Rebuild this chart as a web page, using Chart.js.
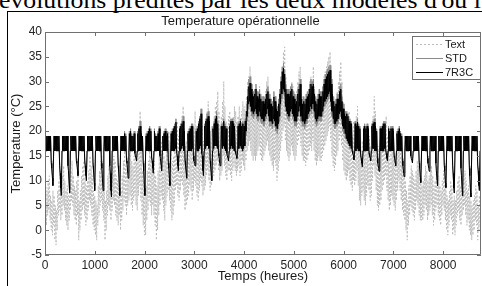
<!DOCTYPE html>
<html>
<head>
<meta charset="utf-8">
<script src="https://cdn.jsdelivr.net/npm/chart.js@4.4.0/dist/chart.umd.min.js"></script>
<style>
  html, body { margin: 0; padding: 0; background: #fff; overflow: hidden; }
  #page { position: relative; width: 482px; height: 286px; overflow: hidden; }
  #doctext { position: absolute; left: -1px; top: -11px; font: 23px 'Liberation Serif', 'Times New Roman', serif;
             line-height: 24px; white-space: nowrap; color: #000; transform: scaleX(1.12); transform-origin: left top; }
  #frameTop { position: absolute; left: 7px; top: 11px; width: 480px; border-top: 1.5px solid #000; }
  #frameLeft { position: absolute; left: 7px; top: 11px; height: 280px; border-left: 1.5px solid #000; }
  canvas { position: absolute; left: 0; top: 0; }
</style>
</head>
<body>
<div id="page">
  <div id="doctext">évolutions prédites par les deux modèles d'ou l</div>
  <div id="frameTop"></div>
  <div id="frameLeft"></div>
  <canvas id="chart" width="482" height="286"></canvas>
</div>
<script>
// axis ticks
const xTicks = [0, 1000, 2000, 3000, 4000, 5000, 6000, 7000, 8000];
const yTicks = [-5, 0, 5, 10, 15, 20, 25, 30, 35, 40];
const seriesNames = ['Text', 'STD', '7R3C'];

// two readings a day (hour of day), one week per row: Mon..Sun, morning/afternoon
const sampleHours = [6, 15];

const textTemp = [
  2,9, 1,8, 3,10, 4,11, 2,7, 0,6, -1,8,
  1,7, -2,5, -3,4, 0,8, 3,10, 4,12, 2,9,
  3,11, 5,13, 4,10, 2,8, 1,9, 0,7, 2,10,
  4,12, 6,14, 5,11, 3,9, 2,8, 1,10, 3,12,
  -2,6, 0,8, 2,11, 4,13, 5,14, 3,10, 1,9,
  2,10, 4,12, 6,15, 5,13, 3,11, 1,8, 0,7,
  -1,6, -2,5, 1,9, 3,12, 5,14, 6,15, 4,12,
  2,9, -2,6, 0,8, 3,11, 5,13, 4,12, 2,10,
  4,13, 6,15, 5,14, 3,11, 2,10, 1,9, 3,12,
  0,8, 2,11, 4,14, 6,16, 5,13, 3,12, 5,15,
  6,16, 7,17, 5,14, 4,13, 6,15, 7,18, 5,14,
  4,15, 7,19, 9,24, 6,16, 3,12, 1,10, -1,8,
  -1,9, 2,12, 4,14, 6,16, 5,15, 3,13, 5,16,
  3,14, 1,11, -2,9, 0,12, 3,15, 5,17, 7,18,
  6,17, 4,15, 2,14, 5,17, 7,19, 8,20, 6,18,
  4,16, 2,14, 3,15, 5,18, 8,21, 9,22, 7,19,
  6,18, 8,21, 10,23, 9,25, 7,20, 4,17, 5,18,
  6,18, 7,19, 9,21, 8,20, 6,19, 8,21, 10,24,
  9,21, 7,19, 6,17, 8,20, 10,22, 9,21, 7,18,
  8,20, 9,22, 11,24, 12,26, 10,22, 8,20, 9,21,
  10,21, 11,23, 12,25, 13,26, 14,28, 12,24, 10,21,
  11,23, 12,26, 15,30, 13,25, 11,22, 10,21, 12,23,
  12,24, 11,22, 10,21, 12,23, 13,25, 12,24, 11,22,
  12,23, 13,25, 11,22, 12,24, 14,26, 13,25, 12,24,
  14,27, 16,30, 17,31, 18,33, 16,29, 15,27, 14,26,
  15,27, 14,25, 15,26, 16,28, 17,29, 15,27, 14,26,
  14,26, 15,27, 16,28, 17,30, 18,31, 16,28, 15,26,
  14,25, 13,24, 12,23, 14,25, 13,22, 10,21, 12,24,
  14,27, 16,30, 18,33, 20,36, 21,37, 18,31, 16,28,
  15,27, 14,26, 15,28, 17,30, 16,29, 15,27, 14,26,
  15,28, 17,30, 18,32, 19,33, 17,29, 15,27, 14,26,
  14,26, 13,25, 14,27, 15,28, 16,30, 17,31, 16,30,
  18,33, 16,29, 14,26, 13,25, 14,27, 15,28, 14,26,
  14,27, 15,29, 16,31, 17,32, 18,33, 19,34, 20,35,
  21,36, 18,31, 15,27, 13,25, 12,24, 13,26, 15,28,
  16,30, 18,32, 19,34, 17,30, 14,26, 12,24, 11,23,
  10,22, 11,23, 12,24, 10,21, 9,20, 8,19, 10,22,
  9,21, 10,23, 12,25, 9,20, 6,17, 5,16, 7,18,
  8,19, 6,17, 5,16, 7,18, 9,20, 8,19, 6,17,
  7,19, 10,23, 13,27, 11,24, 8,20, 5,17, 4,16,
  5,16, 6,17, 8,19, 9,20, 10,21, 11,23, 8,19,
  6,17, 4,15, 5,16, 7,18, 6,17, 5,15, 4,14,
  6,16, 8,18, 10,21, 8,17, 6,15, 4,13, 3,12,
  2,10, 0,8, -2,6, 1,9, 3,11, 5,13, 4,12,
  3,11, 2,10, 4,12, 6,14, 5,13, 3,11, 2,10,
  2,9, 2,10, 3,11, 5,13, 4,12, 2,10, 3,11,
  4,12, 5,13, 3,11, 1,9, 2,10, 4,12, 5,13,
  3,11, 2,9, 1,8, 3,10, 5,12, 4,11, 2,9,
  0,7, -1,6, 1,8, 3,10, 2,9, -1,6, 0,7,
  -1,6, 1,8, 3,10, 4,11, 2,9, 1,8, 3,10,
  4,11, 5,12, 3,10, 1,8, 2,9, 0,7, -1,6,
  -2,5, -1,6, 0,7, 2,9, 1,8, -2,5, 0,7,
  1,8
];

const stdTemp = [
  16,19, 16,19, 16,19, 16,19, 16,19, 14,13, 11,10,
  16,19, 16,19, 16,19, 16,19, 16,19, 13.5,12, 9.5,8,
  16,19, 16,19, 16,19, 16,19, 16,19, 13.5,12.5, 10,8.5,
  16,19, 16,19, 16,19, 16,19, 16,19, 14.5,14, 12.5,12,
  16,19, 16,19, 16,19, 16,19, 16,19, 14.5,13.5, 12,11,
  16,19, 16,19, 16,19, 16,19, 16,19, 13.5,12.5, 10.5,9,
  16,19, 16,19, 16,19, 16,19, 16,19, 14,13, 10.5,9,
  16,19, 16,19, 16,19, 16,19, 16,19, 13.5,12, 9,7.5,
  16,19, 16,19, 16,19, 16,19, 16,19, 13.5,12.5, 9.5,8,
  16,19, 16,19, 16,19, 16,20, 16,19.5, 14.5,14, 12,11.5,
  16,20, 16,20.5, 16,19.5, 16,19, 16,20, 16,15.5, 15,14.5,
  16,20, 16,21, 16,22, 16,20, 16,19, 14,12.5, 9.5,8,
  16,19.5, 16,20, 16,20.5, 16,21, 16,20.5, 15,14.5, 13,12.5,
  16,20.5, 16,19.5, 16,19, 16,20, 16,21, 15.5,15, 13.5,13,
  16,19, 16,20, 16,20.5, 16,19.5, 16,20, 14,13, 11,10,
  16,20, 16,20.5, 16,21, 16,21.5, 16.5,22.5, 16,15.5, 13.5,13,
  16,21, 16,21.5, 16.5,22, 17,23, 16,20.5, 14.5,13.5, 12,11.5,
  16,20, 16,20.5, 16,21, 16,21.5, 16.5,21.5, 15.5,14.5, 14,13.5,
  16,20.5, 16,21, 16,22, 16.5,23, 17,24.5, 16,15.5, 12.5,12,
  16,21.5, 16.5,22.5, 17,23.5, 17,24, 16.5,22.5, 14.5,13.5, 12,11,
  16,21, 16.5,22, 17,23, 17,24, 16.5,22, 16,15.5, 14,13.5,
  16,21.5, 16.5,21.5, 17,22.5, 16.5,21.5, 16,21, 16,15.5, 15,14.5,
  16,21.5, 16.5,22.5, 17,22.5, 16.5,22, 16,21.5, 16.5,16, 15.5,15,
  16,21.5, 16.5,22, 17,22.5, 16.5,21.5, 16,22, 16.5,21.5, 17,22.5,
  19,25.5, 22,28.5, 24.5,30.5, 25,31, 24,29.5, 23,28.5, 22.5,28,
  23,28.5, 23.5,29.5, 22.5,28, 22,27.5, 23,28.5, 22,27.5, 21.5,27,
  21.5,27, 21,26.5, 22,27.5, 22.5,28.5, 23.5,29, 22,27.5, 21,26.5,
  21,26.5, 20.5,26, 21.5,28, 21,27, 20,25.5, 19.5,25, 20.5,26.5,
  22,28.5, 24.5,31, 26.5,33, 27.5,33.7, 27,32.5, 24,29.5, 23,28.5,
  22.5,28.5, 22,28, 23,29, 23.5,29.5, 22.5,28, 22,27.5, 21,26.5,
  21,27, 22,28.5, 23,29.5, 24,30.5, 22,27.5, 21,26.5, 21,27,
  20.5,26.5, 21,27.5, 21.5,28, 22.5,28.5, 23,29.5, 24,30.5, 23.5,30,
  24.5,30.5, 23,28.5, 21.5,27, 21,26.5, 21.5,27.5, 22,28.5, 22,28,
  22,28, 23,29, 24,30.5, 25,31.5, 25.5,32, 26,32.5, 26.5,33,
  27,33.3, 25,30.5, 23,28.5, 21.5,27, 20.5,26, 20.5,26.5, 21,27.5,
  21.5,27.5, 22.5,29, 23,29.5, 21.5,27, 20,25.5, 19.5,24.5, 18.5,24,
  18,24, 17.5,23.5, 17,22.5, 16.5,22, 16,22, 16,16, 15.5,15,
  16,22, 16,21.5, 16.5,22.5, 16,21.5, 16,21, 15.5,15, 14,13.5,
  16,21, 16,21.5, 16,21, 16,21.5, 16,21, 16,15.5, 15,14.5,
  16,21.5, 16.5,22, 16.5,22.5, 16,21.5, 16,20.5, 15,14, 13,12.5,
  16,21, 16,21, 16,21.5, 16,22, 16.5,22, 16,16, 15,14.5,
  16,21, 16,20.5, 16,21, 16,21, 16,20.5, 15.5,15, 14,13.5,
  16,20, 16,20.5, 16,21, 16,20, 16,19.5, 14.5,13.5, 12,11.5,
  16,19, 16,19, 16,19, 16,19, 16,19, 15.5,15, 14.5,14,
  16,19, 16,19, 16,19, 16,19, 16,19, 14,13, 11,10.5,
  16,19, 16,19, 16,19, 16,19, 16,19, 15,14, 13,12.5,
  16,19, 16,19, 16,19, 16,19, 16,19, 14,12.5, 10.5,10,
  16,19, 16,19, 16,19, 16,19, 16,19, 13.5,12.5, 10,9.5,
  16,19, 16,19, 16,19, 16,19, 16,19, 13.5,12, 9,8.5,
  16,19, 16,19, 16,19, 16,19, 16,19, 13,11.5, 8.5,8,
  16,19, 16,19, 16,19, 16,19, 16,19, 13,11.5, 8,7.5,
  16,19, 16,19, 16,19, 16,19, 16,19, 13.5,12.5, 9.5,9,
  16,19
];

const r3cTemp = [
  16,19, 16,19, 16,19, 16,19, 16,19, 13.5,12.5, 10.5,9,
  16,19, 16,19, 16,19, 16,19, 16,19, 13,11.5, 8.5,7,
  16,19, 16,19, 16,19, 16,19, 16,19, 13,12, 9,7.6,
  16,19, 16,19, 16,19, 16,19, 16,19, 14,13.5, 12,11,
  16,19, 16,19, 16,19, 16,19, 16,19, 14,13, 11,10,
  16,19, 16,19, 16,19, 16,19, 16,19, 13,12, 9.5,8,
  16,19, 16,19, 16,19, 16,19, 16,19, 13.5,12.5, 9.5,8,
  16,19, 16,19, 16,19, 16,19, 16,19, 13,11.5, 8,6.7,
  16,19, 16,19, 16,19, 16,19, 16,19, 13,12, 8.5,7,
  16,19, 16,19, 16,19, 16,19.5, 16,19, 14,13.5, 11.5,10.5,
  16,19.5, 16,20, 16,19, 16,19, 16,19.5, 15.5,15, 14.5,14,
  16,19.5, 16,20.5, 16,21, 16,19.5, 16,19, 13.5,12, 8.5,7,
  16,19, 16,19.5, 16,20, 16,20.5, 16,20, 14.5,14, 12.5,11.5,
  16,20, 16,19, 16,19, 16,19.5, 16,20.5, 15,14.5, 13,12,
  16,19, 16,19.5, 16,20, 16,19, 16,19.5, 13.5,12.5, 10,9,
  16,19.5, 16,20, 16,20.5, 16,21, 16.5,21.8, 15.5,15, 13,12,
  16,20.5, 16,21, 16.5,21.5, 17,22, 16,20, 14,13, 11.5,10.5,
  16,19.5, 16,20, 16,20.5, 16,21, 16.5,21, 15,14, 13.5,13,
  16,20, 16,20.5, 16,21.5, 16.5,22.5, 17,23.5, 15.5,15, 12,11,
  16,21, 16.5,22, 17,22.5, 17,23, 16.5,22, 14,13, 11,10,
  16,20.5, 16.5,21.5, 17,22.5, 17,23, 16.5,21.5, 15.5,15, 13.5,13,
  16,21, 16.5,21, 17,22, 16.5,21, 16,20.5, 15.5,15, 14.5,14,
  16,21, 16.5,22, 17,22, 16.5,21.5, 16,21, 16,15.5, 15,14.5,
  16,21, 16.5,21.5, 17,22, 16.5,21, 16,21.5, 16.5,21, 17,22,
  20,24, 23,27, 25.5,29, 26,29.7, 25,28.5, 24,27.5, 23.5,27,
  24,27.5, 24.5,28.5, 23.5,27, 23,26.5, 24,27.5, 23,26.5, 22.5,26,
  22.5,26, 22,25.5, 23,26.5, 23.5,27.5, 24.5,28, 23,26.5, 22,25.5,
  22,25.5, 21.5,25, 22.5,26.9, 22,26, 21,24.5, 20.5,24, 21.5,25.5,
  23,27.5, 25.5,30, 27.5,32, 28.5,32.7, 28,31.5, 25,28.5, 24,27.5,
  23.5,27.5, 23,27, 24,28, 24.5,28.5, 23.5,27, 23,26.5, 22,25.5,
  22,26, 23,27.5, 24,28.5, 25,29.5, 23,26.5, 22,25.5, 22,26,
  21.5,25.5, 22,26.5, 22.5,27, 23.5,27.5, 24,28.5, 25,29.5, 24.5,29,
  25.5,29.5, 24,27.5, 22.5,26, 22,25.5, 22.5,26.5, 23,27.5, 23,27,
  23,27, 24,28, 25,29.5, 26,30.5, 26.5,31, 27,31.5, 27.5,32,
  28,32.3, 26,29.5, 24,27.5, 22.5,26, 21.5,25, 21.5,25.5, 22,26.5,
  22.5,26.5, 23.5,28, 24,28.5, 22.5,26, 21,24.5, 20.5,23.5, 19.5,23,
  18.5,23.5, 18,23, 17.5,22, 17,21.5, 16.5,21.5, 16,15.5, 15,14.2,
  16,21.5, 16,21, 16.5,21.8, 16,21, 16,20.5, 15,14.5, 13.5,12.8,
  16,20.5, 16,21, 16,20.5, 16,21, 16,20.5, 15.5,15, 14.5,14,
  16,21, 16.5,21.5, 16.5,21.8, 16,21, 16,20, 14.5,13.5, 12.5,11.9,
  16,20.5, 16,20.5, 16,21, 16,21.5, 16.5,21.5, 16,15.5, 14.5,14,
  16,20.5, 16,20, 16,20.5, 16,20.5, 16,20, 15,14.5, 13.5,13,
  16,19.5, 16,20, 16,20.5, 16,19.5, 16,19, 14,13, 11.5,10.8,
  16,19, 16,19, 16,19, 16,19, 16,19, 15,14.5, 14,13.6,
  16,19, 16,19, 16,19, 16,19, 16,19, 13.5,12.5, 10.5,9.6,
  16,19, 16,19, 16,19, 16,19, 16,19, 14.5,13.5, 12.5,11.9,
  16,19, 16,19, 16,19, 16,19, 16,19, 13.5,12, 10,9,
  16,19, 16,19, 16,19, 16,19, 16,19, 13,12, 9.5,8.6,
  16,19, 16,19, 16,19, 16,19, 16,19, 13,11.5, 8.5,7.5,
  16,19, 16,19, 16,19, 16,19, 16,19, 12.5,11, 8,7,
  16,19, 16,19, 16,19, 16,19, 16,19, 12.5,11, 7.5,6.7,
  16,19, 16,19, 16,19, 16,19, 16,19, 13,12, 9,8,
  16,19
];

// turn the twice-a-day readings into {x: hour, y: temp}
function toPoints(values) {
  return values.map((v, i) => ({ x: Math.floor(i / 2) * 24 + sampleHours[i % 2], y: v }));
}

const seriesStyle = [
  { color: '#bcbcbc', width: 1, dash: [2, 2] },
  { color: '#8a8a8a', width: 1, dash: [] },
  { color: '#000000', width: 1, dash: [] }
];

// MATLAB style box with inward ticks on all four sides
const matlabBox = {
  id: 'matlabBox',
  afterDatasetsDraw(chart) {
    const { ctx, chartArea: a, scales: { x, y } } = chart;
    ctx.save();
    ctx.strokeStyle = '#707070';
    ctx.lineWidth = 1;
    ctx.beginPath();
    ctx.rect(a.left + 0.5, a.top + 0.5, a.right - a.left - 1, a.bottom - a.top - 1);
    x.ticks.forEach(t => {
      const px = Math.round(x.getPixelForValue(t.value)) + 0.5;
      ctx.moveTo(px, a.bottom); ctx.lineTo(px, a.bottom - 4);
      ctx.moveTo(px, a.top); ctx.lineTo(px, a.top + 4);
    });
    y.ticks.forEach(t => {
      const py = Math.round(y.getPixelForValue(t.value)) + 0.5;
      ctx.moveTo(a.left, py); ctx.lineTo(a.left + 4, py);
      ctx.moveTo(a.right, py); ctx.lineTo(a.right - 4, py);
    });
    ctx.stroke();
    ctx.restore();
  }
};

// boxed legend in the top right corner
const boxLegend = {
  id: 'boxLegend',
  afterDraw(chart) {
    const { ctx, chartArea: a } = chart;
    const w = 68, h = 43;
    const left = a.right - w - 1, top = a.top + 4;
    ctx.save();
    ctx.fillStyle = '#fff';
    ctx.fillRect(left, top, w, h);
    ctx.strokeStyle = '#707070';
    ctx.lineWidth = 1;
    ctx.strokeRect(left + 0.5, top + 0.5, w, h);
    ctx.font = "11px 'Liberation Sans', Arial, sans-serif";
    ctx.textBaseline = 'middle';
    ctx.fillStyle = '#1a1a1a';
    seriesNames.forEach((name, i) => {
      const cy = Math.round(top + 7.5 + i * 14) + 0.5;
      const st = seriesStyle[i];
      ctx.strokeStyle = st.color;
      ctx.lineWidth = st.width;
      ctx.setLineDash(st.dash);
      ctx.beginPath();
      ctx.moveTo(left + 4, cy);
      ctx.lineTo(left + 31, cy);
      ctx.stroke();
      ctx.setLineDash([]);
      ctx.fillText(name, left + 33, cy);
    });
    ctx.restore();
  }
};

Chart.defaults.font.family = "'Liberation Sans', Arial, Helvetica, sans-serif";

const datasets = [textTemp, stdTemp, r3cTemp].map((vals, i) => ({
  label: seriesNames[i],
  data: toPoints(vals),
  borderColor: seriesStyle[i].color,
  borderWidth: seriesStyle[i].width,
  borderDash: seriesStyle[i].dash,
  pointRadius: 0,
  tension: 0,
  fill: false,
  order: 3 - i
}));

new Chart(document.getElementById('chart').getContext('2d'), {
  type: 'line',
  data: { datasets },
  plugins: [matlabBox, boxLegend],
  options: {
    responsive: false,
    animation: false,
    events: [],
    layout: { padding: { left: 0, right: 1, top: 0, bottom: 0 } },
    plugins: {
      legend: { display: false },
      tooltip: { enabled: false },
      title: {
        display: true,
        text: 'Temperature opérationnelle',
        font: { size: 13, weight: 'normal' },
        color: '#1a1a1a',
        padding: { top: 13.5, bottom: 2.9 }
      }
    },
    scales: {
      x: {
        type: 'linear',
        min: 0,
        max: 8760,
        afterBuildTicks: s => { s.ticks = xTicks.map(v => ({ value: v })); },
        afterFit: s => { s.height = 31; },
        ticks: { font: { size: 12 }, color: '#262626', padding: 3, maxRotation: 0, autoSkip: false,
                 callback: v => String(v) },
        grid: { display: false, drawTicks: false },
        border: { display: false },
        title: { display: true, text: 'Temps (heures)', font: { size: 13 }, color: '#1a1a1a',
                 padding: { top: 0, bottom: 2 } }
      },
      y: {
        min: -5,
        max: 40,
        afterBuildTicks: s => { s.ticks = yTicks.map(v => ({ value: v })); },
        afterFit: s => { s.width = 45; },
        ticks: { font: { size: 12 }, color: '#262626', padding: 3, callback: v => String(v) },
        grid: { display: false, drawTicks: false },
        border: { display: false },
        title: { display: true, text: 'Temperature (°C)', font: { size: 13 }, color: '#1a1a1a',
                 padding: { top: 9, bottom: 0 } }
      }
    }
  }
});
</script>
</body>
</html>
